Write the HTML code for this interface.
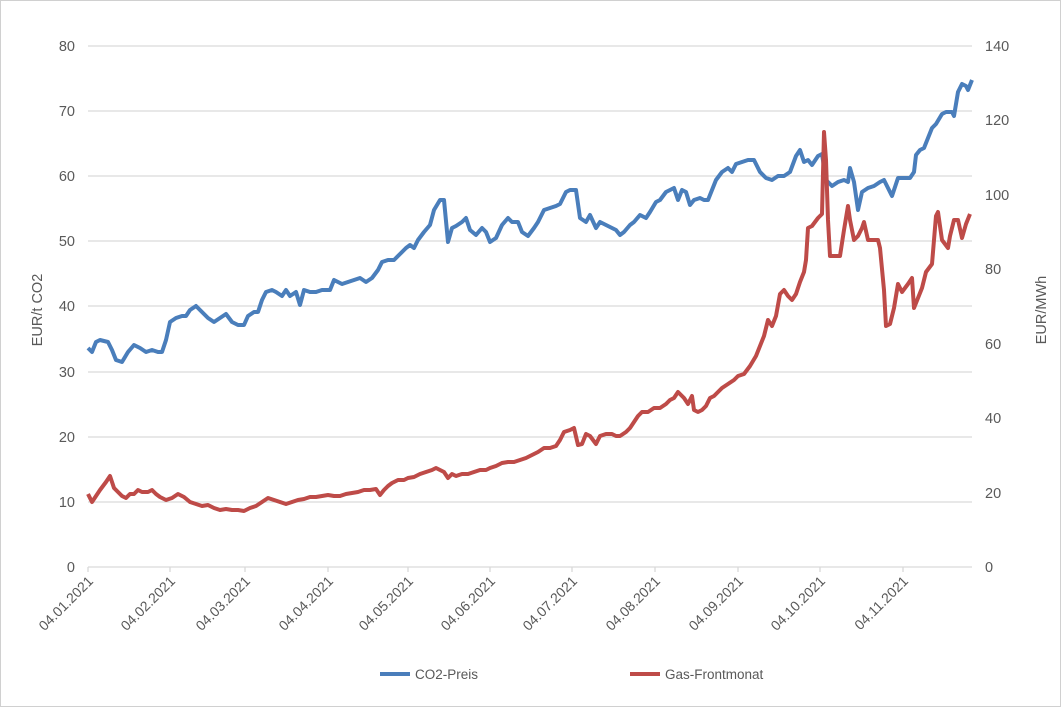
<!DOCTYPE html><html><head><style>body{margin:0;background:#fff}svg{display:block}text{font-family:"Liberation Sans",sans-serif;fill:#595959}</style></head><body>
<svg width="1061" height="707" viewBox="0 0 1061 707">
<rect x="0.5" y="0.5" width="1060" height="706" fill="#fff" stroke="#d0d0d0"/>
<g stroke="#d9d9d9" stroke-width="1.3">
<line x1="88" y1="46" x2="972" y2="46"/><line x1="88" y1="111" x2="972" y2="111"/><line x1="88" y1="176" x2="972" y2="176"/><line x1="88" y1="241" x2="972" y2="241"/><line x1="88" y1="306" x2="972" y2="306"/><line x1="88" y1="372" x2="972" y2="372"/><line x1="88" y1="437" x2="972" y2="437"/><line x1="88" y1="502" x2="972" y2="502"/><line x1="88" y1="567" x2="972" y2="567"/>
<line x1="88" y1="567" x2="88" y2="572"/><line x1="170" y1="567" x2="170" y2="572"/><line x1="245" y1="567" x2="245" y2="572"/><line x1="328" y1="567" x2="328" y2="572"/><line x1="408" y1="567" x2="408" y2="572"/><line x1="490" y1="567" x2="490" y2="572"/><line x1="572" y1="567" x2="572" y2="572"/><line x1="655" y1="567" x2="655" y2="572"/><line x1="738" y1="567" x2="738" y2="572"/><line x1="820" y1="567" x2="820" y2="572"/><line x1="903" y1="567" x2="903" y2="572"/>
</g>
<g font-size="14.5" text-anchor="end">
<text x="75" y="51">80</text><text x="75" y="116">70</text><text x="75" y="181">60</text><text x="75" y="246">50</text><text x="75" y="311">40</text><text x="75" y="377">30</text><text x="75" y="442">20</text><text x="75" y="507">10</text><text x="75" y="572">0</text>
</g>
<g font-size="14.5" text-anchor="start">
<text x="985" y="51">140</text><text x="985" y="125">120</text><text x="985" y="200">100</text><text x="985" y="274">80</text><text x="985" y="349">60</text><text x="985" y="423">40</text><text x="985" y="498">20</text><text x="985" y="572">0</text>
</g>
<g font-size="14" text-anchor="end">
<text transform="translate(94,582) rotate(-45)">04.01.2021</text><text transform="translate(176,582) rotate(-45)">04.02.2021</text><text transform="translate(251,582) rotate(-45)">04.03.2021</text><text transform="translate(334,582) rotate(-45)">04.04.2021</text><text transform="translate(414,582) rotate(-45)">04.05.2021</text><text transform="translate(496,582) rotate(-45)">04.06.2021</text><text transform="translate(578,582) rotate(-45)">04.07.2021</text><text transform="translate(661,582) rotate(-45)">04.08.2021</text><text transform="translate(744,582) rotate(-45)">04.09.2021</text><text transform="translate(826,582) rotate(-45)">04.10.2021</text><text transform="translate(909,582) rotate(-45)">04.11.2021</text>
</g>
<text font-size="14.5" text-anchor="middle" transform="translate(42,310) rotate(-90)">EUR/t CO2</text>
<text font-size="14.5" text-anchor="middle" transform="translate(1046,310) rotate(-90)">EUR/MWh</text>
<polyline fill="none" stroke="#4a7ebb" stroke-width="4" stroke-linejoin="round" points="88,348 92,352 96,342 100,340 108,342 112,350 116,360 122,362 128,352 134,345 140,348 146,352 152,350 158,352 162,352 166,340 170,322 176,318 182,316 186,316 190,310 196,306 202,312 208,318 214,322 220,318 226,314 232,322 238,325 244,325 248,316 254,312 258,312 262,300 266,292 272,290 276,292 282,296 286,290 290,296 296,292 300,305 304,290 310,292 316,292 322,290 330,290 334,280 338,282 342,284 348,282 354,280 360,278 366,282 372,278 378,270 382,262 388,260 394,260 400,254 406,248 410,245 414,248 418,240 424,232 430,225 434,210 440,200 444,200 448,242 452,228 456,226 462,222 466,218 470,230 476,235 482,228 486,232 490,242 496,238 502,225 508,218 512,222 518,222 522,232 528,236 534,228 538,222 544,210 550,208 556,206 560,204 566,192 570,190 576,190 580,218 586,222 590,215 596,228 600,222 606,225 612,228 616,230 620,235 624,232 630,225 634,222 640,215 646,218 650,212 656,202 660,200 666,192 670,190 674,188 678,200 682,190 686,192 690,205 694,200 700,198 704,200 708,200 712,190 716,180 722,172 728,168 732,172 736,164 742,162 748,160 754,160 760,172 766,178 772,180 778,176 784,176 790,172 796,156 800,150 804,162 808,160 812,165 818,156 822,154 826,180 832,186 838,182 844,180 848,182 850,168 854,182 858,210 862,192 868,188 874,186 880,182 884,180 888,188 892,196 898,178 904,178 910,178 914,172 916,155 920,150 924,148 928,138 932,128 936,124 942,114 946,112 952,112 954,116 958,92 962,84 966,86 968,90 972,80"/>
<polyline fill="none" stroke="#be4b48" stroke-width="4" stroke-linejoin="round" points="88,494 92,502 96,496 100,490 106,482 110,476 114,488 118,492 122,496 126,498 130,494 134,494 138,490 142,492 148,492 152,490 156,494 160,497 166,500 172,498 178,494 184,497 190,502 196,504 202,506 208,505 214,508 220,510 226,509 232,510 238,510 244,511 250,508 256,506 262,502 268,498 274,500 280,502 286,504 292,502 298,500 304,499 310,497 316,497 322,496 328,495 334,496 340,496 346,494 352,493 358,492 364,490 370,490 376,489 380,495 384,490 388,486 392,483 398,480 404,480 408,478 414,477 420,474 426,472 432,470 436,468 440,470 444,472 448,478 452,474 456,476 462,474 468,474 474,472 480,470 486,470 490,468 496,466 502,463 508,462 514,462 520,460 526,458 532,455 538,452 544,448 550,448 556,446 560,440 564,432 570,430 574,428 578,445 582,444 586,434 590,436 596,444 600,436 606,434 612,434 616,436 620,436 626,432 630,428 634,422 638,416 642,412 648,412 654,408 660,408 666,404 670,400 674,398 678,392 684,398 688,404 692,396 694,410 698,412 702,410 706,406 710,398 714,396 718,392 722,388 728,384 734,380 738,376 744,374 750,366 756,356 760,346 764,336 768,320 772,326 776,316 780,294 784,290 788,296 792,300 796,294 800,282 804,272 806,260 808,228 812,226 818,218 822,214 824,132 826,160 828,220 830,256 840,256 844,230 848,206 850,220 854,240 858,236 862,228 864,222 868,240 872,240 878,240 880,248 884,290 886,326 890,324 894,308 898,284 902,292 908,284 912,278 914,308 918,298 922,288 926,272 932,264 936,216 938,212 942,240 948,248 950,236 954,220 958,220 962,238 966,224 970,214"/>
<line x1="380" y1="674" x2="410" y2="674" stroke="#4a7ebb" stroke-width="4"/>
<text x="415" y="679" font-size="13.5">CO2-Preis</text>
<line x1="630" y1="674" x2="660" y2="674" stroke="#be4b48" stroke-width="4"/>
<text x="665" y="679" font-size="13.5">Gas-Frontmonat</text>
</svg></body></html>
